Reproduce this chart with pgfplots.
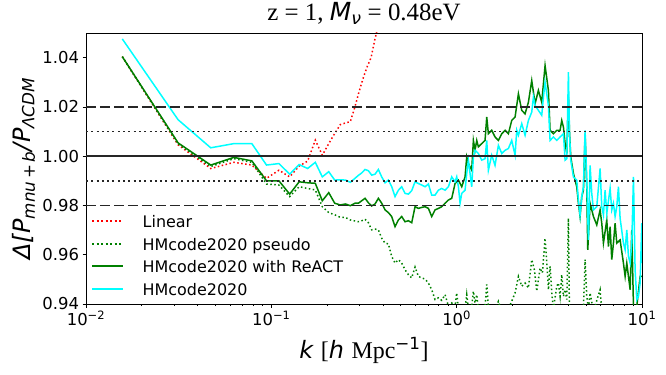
\documentclass[border=0pt]{standalone}
\usepackage{fontspec}
\setmainfont{DejaVu Sans}
\newfontfamily\serif{Liberation Serif}
\usepackage{pgfplots}
\pgfplotsset{compat=1.18}
\definecolor{mplgreen}{RGB}{0,128,0}
\definecolor{mplcyan}{RGB}{0,255,255}
\definecolor{mplred}{RGB}{255,0,0}
\tikzset{
  linstyle/.style={mplred, line width=1.5bp, dash pattern=on 1.5bp off 2.5bp},
  pseudostyle/.style={mplgreen, line width=1.5bp, dash pattern=on 1.5bp off 2.5bp},
  reactstyle/.style={mplgreen, line width=1.5bp},
  hmstyle/.style={mplcyan, line width=1.5bp},
  legtext/.style={anchor=base west, inner sep=0pt, font=\fontsize{16}{16}\selectfont},
}

\begin{document}
\begin{tikzpicture}
\useasboundingbox (-86bp,-71bp) rectangle (580bp,304bp);
\begin{axis}[
    at={(0,0)}, anchor=south west,
    width=556bp, height=271bp, scale only axis,
    xmode=log,
    xmin=0.01, xmax=10,
    ymin=0.94, ymax=1.05,
    axis line style={line width=0.8bp},
    tick style={black, line width=0.8bp},
    tick align=outside,
    tick pos=left,
    major tick length=3.5bp,
    minor tick length=2bp,
    xtick={0.01,0.1,1,10},
    xticklabels={10\textsuperscript{−2},10\textsuperscript{−1},10\textsuperscript{0},10\textsuperscript{1}},
    ytick={0.94,0.96,0.98,1.00,1.02,1.04},
    yticklabels={0.94,0.96,0.98,1.00,1.02,1.04},
    tick label style={font=\fontsize{16.5}{16.5}\selectfont},
    title={{\serif z = 1, }{\itshape M\textsubscript{ν}}{\serif\ = 0.48eV}},
    title style={font=\fontsize{25}{25}\selectfont, at={(axis description cs:0.5,1.05)}, anchor=center},
    xlabel={{\itshape k} {\serif [}{\itshape h} {\serif Mpc}\textsuperscript{−1}{\serif ]}},
    xlabel style={font=\fontsize{24}{24}\selectfont, at={(axis description cs:0.5,-0.17)}, anchor=center},
    ylabel={{\itshape Δ[P\textsubscript{mnu\,+\,b}/P\textsubscript{ΛCDM}}},
    ylabel style={font=\fontsize{24}{24}\selectfont, at={(axis description cs:-0.112,0.5)}, anchor=center},
]

% Linear
\addplot[linstyle] coordinates {
(0.0157,1.0404)(0.0314,1.0046)(0.0471,0.9950)(0.0628,0.9975)(0.0785,0.9964)(0.0942,0.9910)
(0.1099,0.9943)(0.1256,0.9916)(0.1413,0.9960)(0.1570,0.9980)(0.1727,1.0065)(0.1884,1.0004)
(0.2041,1.0051)(0.2198,1.0092)(0.2355,1.0128)(0.2512,1.0135)(0.2669,1.0140)(0.2826,1.0200)
(0.2983,1.0265)(0.3140,1.0320)(0.3297,1.0365)(0.3454,1.0400)(0.3611,1.0470)(0.3768,1.0530)
(0.3925,1.0580)
};

% HMcode2020 pseudo
\addplot[pseudostyle] coordinates {
(0.0157,1.0404)(0.0314,1.0050)(0.0471,0.9958)(0.0628,0.9990)(0.0785,0.9975)(0.0942,0.9887)
(0.1099,0.9883)(0.1256,0.9836)(0.1413,0.9876)(0.1570,0.9869)(0.1727,0.9863)(0.1884,0.9795)
(0.2041,0.9771)(0.2198,0.9762)(0.2355,0.9752)(0.2512,0.9751)(0.2669,0.9741)(0.2826,0.9737)
(0.2949,0.9734)(0.3074,0.9738)(0.3204,0.9744)(0.3340,0.9730)(0.3480,0.9701)(0.3628,0.9704)
(0.3782,0.9701)(0.3941,0.9667)(0.4108,0.9647)(0.4282,0.9644)(0.4463,0.9593)(0.4652,0.9566)
(0.4849,0.9580)(0.5054,0.9566)(0.5266,0.9539)(0.5490,0.9519)(0.5722,0.9506)(0.5964,0.9550)
(0.6217,0.9512)(0.6479,0.9506)(0.6754,0.9501)(0.7040,0.9485)(0.7337,0.9458)(0.7648,0.9418)
(0.7970,0.9425)(0.8307,0.9415)(0.8659,0.9438)(0.9025,0.9391)(0.9406,0.9404)
(0.9803,0.9390)(1.0009,0.9445)(1.0219,0.9380)(1.0651,0.9380)(1.1101,0.9380)(1.1334,0.9438)
(1.1569,0.9380)(1.2058,0.9390)(1.2310,0.9452)(1.2567,0.9404)(1.2834,0.9438)(1.3098,0.9380)
(1.3652,0.9370)(1.4229,0.9390)(1.4532,0.9479)(1.4831,0.9390)(1.5458,0.9370)(1.6112,0.9380)
(1.6793,0.9411)(1.7513,0.9370)(1.9024,0.9380)(1.9826,0.9411)(2.0664,0.9445)(2.1538,0.9512)
(2.2452,0.9472)(2.3397,0.9485)(2.4386,0.9465)(2.5417,0.9580)(2.6273,0.9539)(2.7048,0.9452)
(2.8194,0.9546)(2.9023,0.9526)(2.9998,0.9667)(3.0630,0.9566)(3.1266,0.9458)
(3.192,0.9553)(3.2596,0.9445)(3.327,0.9380)(3.469,0.9472)(3.541,0.9485)(3.615,0.9431)
(3.691,0.9519)(3.769,0.9431)(3.847,0.9458)(3.929,0.9418)(4.009,0.9748)(4.059,0.9380)
(4.266,0.9370)(4.634,0.9370)(4.831,0.9380)(4.932,0.9580)(5.035,0.9431)(5.140,0.9380)
(5.248,0.9445)(5.470,0.9370)(5.943,0.9458)(6.067,0.9370)(7.311,0.9350)(10,0.9350)
};

% HMcode2020 with ReACT
\addplot[reactstyle] coordinates {
(0.0157,1.0404)(0.0314,1.0054)(0.0471,0.9964)(0.0628,0.9995)(0.0785,0.9981)(0.0942,0.9900)
(0.1099,0.9900)(0.1256,0.9846)(0.1413,0.9896)(0.1570,0.9892)(0.1727,0.9890)(0.1884,0.9819)
(0.2041,0.9852)(0.2198,0.9809)(0.2355,0.9802)(0.2512,0.9806)(0.2669,0.9799)(0.2826,0.9809)
(0.2949,0.9809)(0.3074,0.9819)(0.3204,0.9829)(0.3340,0.9811)(0.3480,0.9798)(0.3628,0.9806)
(0.3782,0.9829)(0.3941,0.9809)(0.4108,0.9782)(0.4282,0.9771)(0.4463,0.9755)(0.4652,0.9714)
(0.4849,0.9741)(0.5054,0.9755)(0.5266,0.9734)(0.5490,0.9738)(0.5722,0.9730)(0.5964,0.9795)
(0.6217,0.9788)(0.6479,0.9792)(0.6754,0.9795)(0.7040,0.9788)(0.7337,0.9755)(0.7648,0.9782)
(0.7970,0.9788)(0.8307,0.9795)(0.8659,0.9809)(0.9025,0.9822)(0.9406,0.9829)
(0.9803,0.9889)(1.0219,0.9903)(1.0651,0.9876)(1.1101,0.9916)(1.1334,0.9997)(1.1569,0.9970)
(1.2058,0.9943)(1.2310,1.0064)(1.2567,1.0024)(1.2834,1.0064)(1.3098,1.0038)(1.3652,1.0051)
(1.4229,1.0064)(1.4532,1.0159)(1.4831,1.0091)(1.5458,1.0105)(1.6112,1.0078)(1.6793,1.0064)
(1.7513,1.0091)(1.8252,1.0105)(1.9024,1.0091)(1.9826,1.0145)(2.0664,1.0159)(2.1538,1.0253)
(2.2452,1.0186)(2.3397,1.0172)(2.4386,1.0219)(2.5417,1.0307)(2.6492,1.0213)(2.7612,1.0267)
(2.8780,1.0219)(2.9998,1.0368)(3.1266,1.0267)
(3.192,1.0105)(3.327,1.0091)(3.469,1.0105)(3.615,1.0105)(3.691,1.0145)(3.769,1.0118)
(3.847,1.0051)(3.929,1.0011)(4.009,1.0240)(4.059,1.0105)(4.127,0.9997)(4.266,0.9930)
(4.446,0.9876)(4.539,0.9809)(4.634,0.9755)(4.732,0.9836)(4.831,0.9862)(4.932,1.0091)
(5.035,0.9876)(5.098,0.9620)(5.248,0.9809)(5.470,0.9755)(5.702,0.9721)(5.943,0.9782)
(6.067,0.9728)(6.194,0.9647)(6.457,0.9741)(6.592,0.9633)(6.730,0.9714)(6.870,0.9580)
(7.015,0.9647)(7.161,0.9728)(7.311,0.9647)(7.621,0.9660)(7.943,0.9566)(8.110,0.9512)
(8.279,0.9566)(8.630,0.9458)(8.810,0.9701)(8.995,0.9391)(9.376,0.9391)(9.772,0.9512)
(10.0,0.9512)
};

% HMcode2020
\addplot[hmstyle] coordinates {
(0.0157,1.0476)(0.0314,1.0148)(0.0471,1.0034)(0.0628,1.0051)(0.0785,1.0051)(0.0942,0.9964)
(0.1099,0.9970)(0.1256,0.9927)(0.1413,0.9966)(0.1570,0.9950)(0.1727,0.9975)(0.1884,0.9916)
(0.2041,0.9937)(0.2198,0.9903)(0.2355,0.9904)(0.2512,0.9903)(0.2669,0.9894)(0.2826,0.9910)
(0.2949,0.9922)(0.3074,0.9932)(0.3204,0.9946)(0.3340,0.9941)(0.3480,0.9923)(0.3628,0.9927)
(0.3782,0.9946)(0.3941,0.9916)(0.4108,0.9892)(0.4282,0.9903)(0.4463,0.9876)(0.4652,0.9836)
(0.4849,0.9862)(0.5054,0.9876)(0.5266,0.9849)(0.5490,0.9846)(0.5722,0.9860)(0.5964,0.9896)
(0.6217,0.9889)(0.6479,0.9883)(0.6754,0.9876)(0.7040,0.9887)(0.7337,0.9842)(0.7648,0.9842)
(0.7970,0.9862)(0.8307,0.9869)(0.8659,0.9862)(0.9025,0.9876)(0.9406,0.9916)
(0.9803,0.9896)(1.0009,0.9916)(1.0219,0.9876)(1.0433,0.9809)(1.0651,0.9849)(1.1101,0.9862)
(1.1334,0.9930)(1.1569,0.9984)(1.2058,0.9876)(1.2310,0.9997)(1.2567,1.0024)(1.3098,1.0011)
(1.3652,0.9984)(1.4229,0.9990)(1.4532,1.0064)(1.4831,0.9943)(1.5458,1.0004)(1.6112,0.9963)
(1.6793,1.0044)(1.7513,1.0011)(1.8252,1.0024)(1.9024,1.0031)(1.9826,1.0064)(2.0664,1.0004)
(2.1097,1.0105)(2.1538,1.0085)(2.2452,1.0132)(2.3397,1.0085)(2.4386,1.0145)(2.5417,1.0179)
(2.5956,1.0240)(2.6492,1.0206)(2.7612,1.0186)(2.8780,1.0166)(2.9390,1.0240)(2.9998,1.0300)
(3.1266,1.0206)
(3.192,1.0064)(3.327,1.0078)(3.469,1.0064)(3.615,1.0078)(3.769,1.0091)(3.847,0.9984)
(3.929,0.9990)(4.009,1.0341)(4.059,1.0105)(4.127,0.9984)(4.266,0.9916)(4.446,0.9903)
(4.539,0.9822)(4.634,0.9761)(4.732,0.9836)(4.831,0.9876)(4.932,1.0105)(5.035,0.9903)
(5.140,0.9660)(5.248,0.9963)(5.358,0.9849)(5.470,0.9782)(5.702,0.9795)(5.943,0.9950)
(6.067,0.9795)(6.194,0.9761)(6.324,0.9862)(6.457,0.9768)(6.730,0.9869)(6.870,0.9782)
(7.015,0.9809)(7.161,0.9755)(7.311,0.9795)(7.464,0.9876)(7.621,0.9748)(7.943,0.9647)
(8.110,0.9620)(8.279,0.9701)(8.453,0.9593)(8.630,0.9566)(8.810,0.9647)(8.995,0.9916)
(9.180,0.9539)(9.376,0.9418)(9.572,0.9431)(9.772,0.9485)(9.973,0.9728)(10.0,0.9566)
};

% reference levels
\addplot[black!85, line width=1.6bp, dash pattern=on 10bp off 4bp] coordinates {(0.01,1.02)(10,1.02)};
\addplot[black!85, line width=1.6bp, dash pattern=on 10bp off 4bp] coordinates {(0.01,0.98)(10,0.98)};
\addplot[black!85, line width=1.6bp, dash pattern=on 2bp off 3.3bp] coordinates {(0.01,1.01)(10,1.01)};
\addplot[black!85, line width=1.6bp, dash pattern=on 2bp off 3.3bp] coordinates {(0.01,0.99)(10,0.99)};
\addplot[black!85, line width=1.8bp] coordinates {(0.01,1.00)(10,1.00)};

\end{axis}

% legend (frameless, lower left of the axis)
\begin{scope}[every path/.append style={line width=2bp}]
\draw[linstyle, line width=2bp, dash pattern=on 2bp off 2.5bp] (6bp,82.5bp) -- (37bp,82.5bp);
\draw[pseudostyle, line width=2bp, dash pattern=on 2bp off 2.5bp] (6bp,59.5bp) -- (37bp,59.5bp);
\draw[reactstyle, line width=2bp]  (6bp,37.5bp) -- (37bp,37.5bp);
\draw[hmstyle, line width=2bp]     (6bp,14.5bp) -- (37bp,14.5bp);
\end{scope}
\node[legtext] at (56.5bp,76.8bp) {Linear};
\node[legtext] at (56.5bp,53.8bp) {HMcode2020 pseudo};
\node[legtext] at (56.5bp,31.8bp) {HMcode2020 with ReACT};
\node[legtext] at (56.5bp,8.8bp)  {HMcode2020};
\end{tikzpicture}
\end{document}
